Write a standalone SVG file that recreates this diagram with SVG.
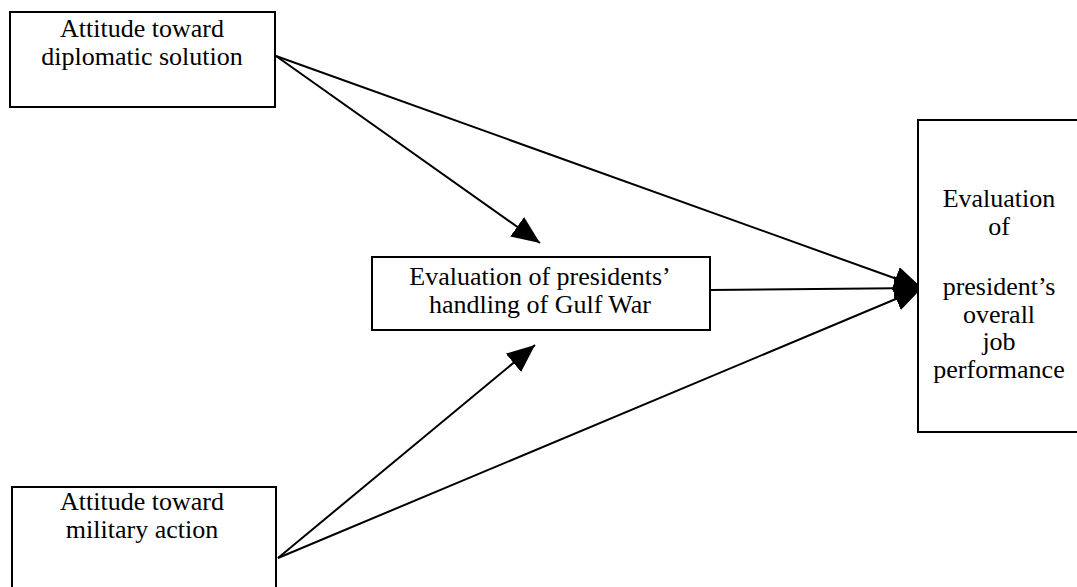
<svg xmlns="http://www.w3.org/2000/svg" width="1077" height="587" viewBox="0 0 1077 587">
<style>
.box{fill:#fff;stroke:#000;stroke-width:2}
.t{font-family:"Liberation Serif","Times New Roman",serif;font-size:26px;fill:#000;text-anchor:middle}
.c{stroke:#000;stroke-width:2;fill:none}
</style>
<defs>
<marker id="ah" markerUnits="userSpaceOnUse" markerWidth="30" markerHeight="26" refX="28" refY="12" orient="auto">
<path d="M0,0 L28,12 L0,24 Z" fill="#000"/>
</marker>
</defs>
<rect width="1077" height="587" fill="#fff"/>
<g id="connectors">
<line class="c" x1="276" y1="56" x2="540" y2="243" marker-end="url(#ah)"/>
<line class="c" x1="276" y1="56" x2="922" y2="288" marker-end="url(#ah)"/>
<line class="c" x1="710" y1="290" x2="922" y2="288" marker-end="url(#ah)"/>
<line class="c" x1="278" y1="558" x2="535" y2="345" marker-end="url(#ah)"/>
<line class="c" x1="278" y1="558" x2="922" y2="288" marker-end="url(#ah)"/>
</g>
<g id="node-diplomatic">
<rect class="box" x="10" y="12" width="265" height="95"/>
<text class="t" x="142" y="37">Attitude toward</text>
<text class="t" x="142" y="65">diplomatic solution</text>
</g>
<g id="node-gulfwar">
<rect class="box" x="372" y="257" width="338" height="73"/>
<text class="t" x="540" y="285">Evaluation of presidents’</text>
<text class="t" x="540" y="313">handling of Gulf War</text>
</g>
<g id="node-overall">
<rect class="box" x="918" y="120" width="170" height="312"/>
<text class="t" x="999" y="207">Evaluation</text>
<text class="t" x="999" y="235">of</text>
<text class="t" x="999" y="295">president’s</text>
<text class="t" x="999" y="323">overall</text>
<text class="t" x="999" y="350">job</text>
<text class="t" x="999" y="378">performance</text>
</g>
<g id="node-military">
<rect class="box" x="12" y="487" width="264" height="110"/>
<text class="t" x="142" y="510">Attitude toward</text>
<text class="t" x="142" y="538">military action</text>
</g>
</svg>
